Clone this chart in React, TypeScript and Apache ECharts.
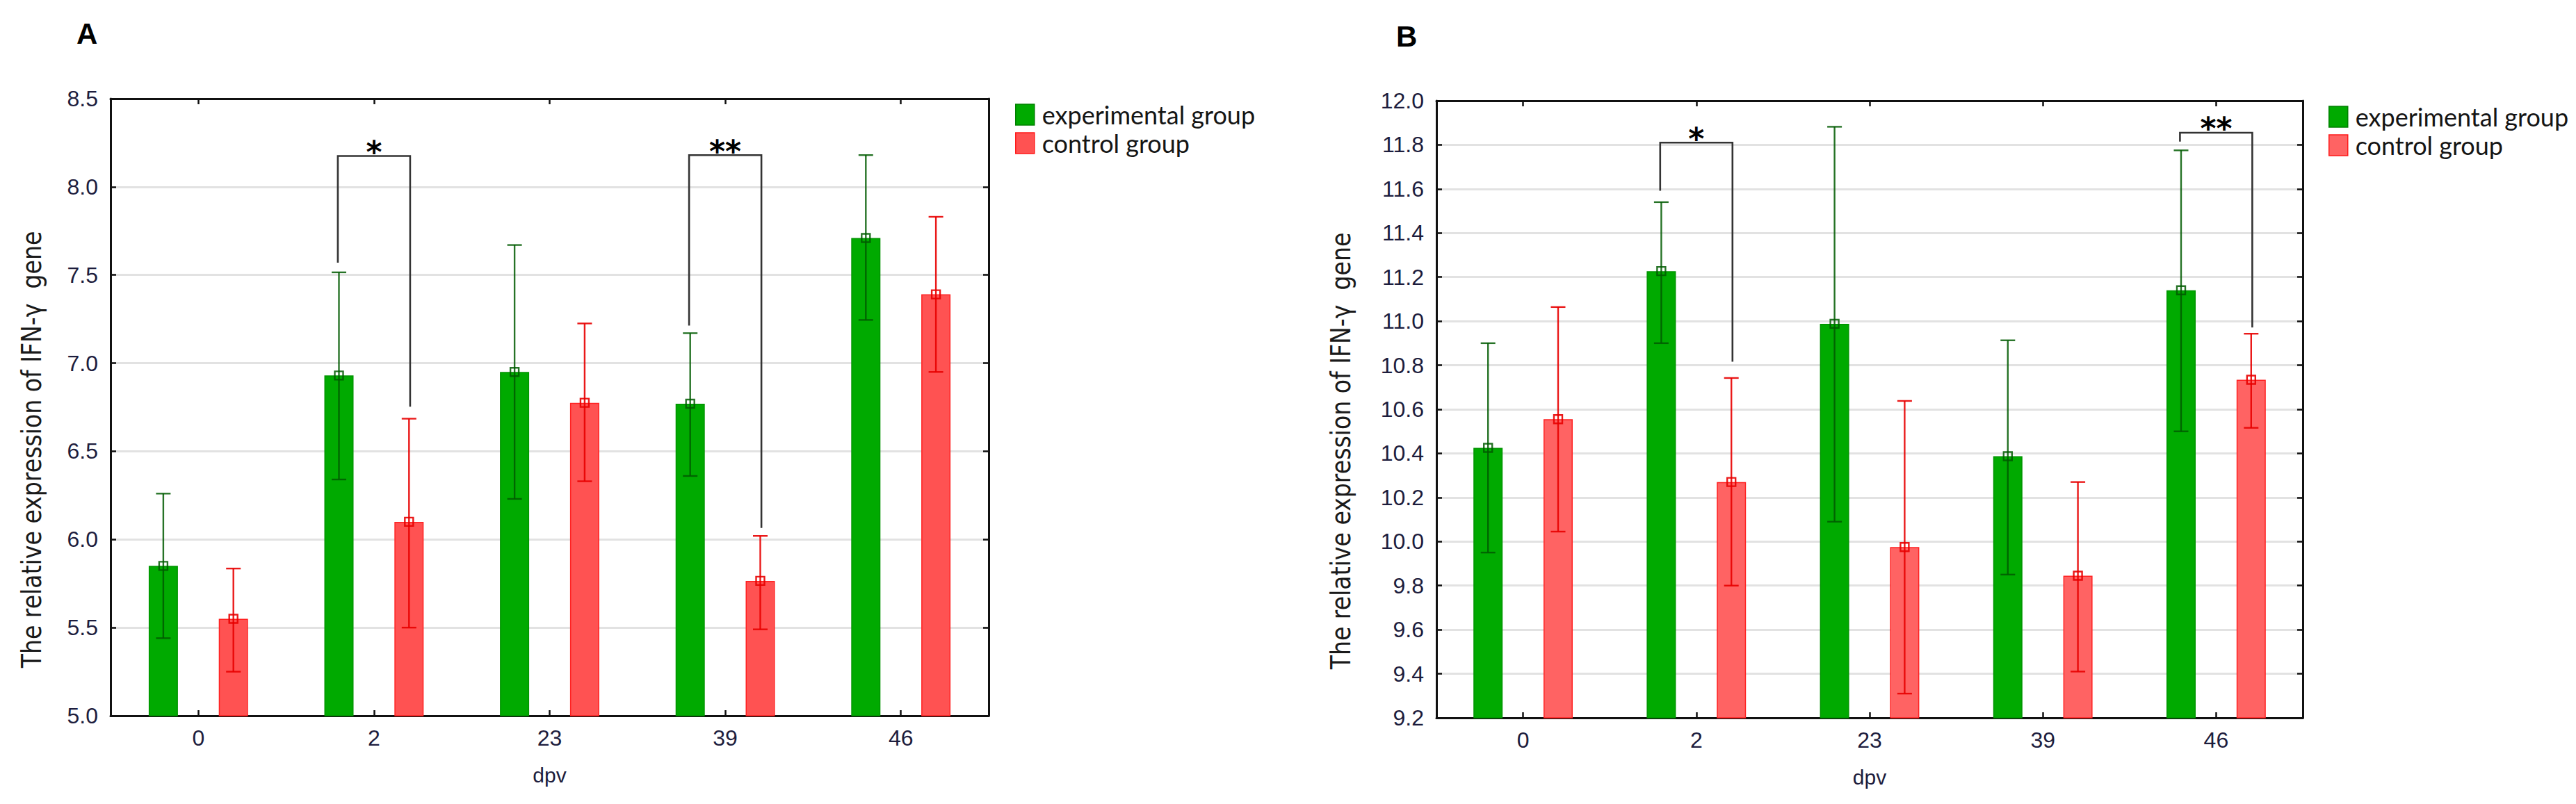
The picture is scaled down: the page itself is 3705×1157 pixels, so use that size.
import React, { useEffect, useRef } from 'react';
import * as echarts from 'echarts';

// ---------- data ----------
const CATEGORIES = ['0', '2', '23', '39', '46'];
const SERIES_NAMES = ['experimental group', 'control group'];

// Panel A (y: 5.0 – 8.5)
const A_EXP_MEAN = [5.85, 6.93, 6.95, 6.77, 7.71];
const A_EXP_LOW = [5.44, 6.34, 6.23, 6.36, 7.245];
const A_EXP_HIGH = [6.26, 7.515, 7.67, 7.17, 8.18];
const A_CTL_MEAN = [5.55, 6.1, 6.775, 5.765, 7.39];
const A_CTL_LOW = [5.25, 5.5, 6.33, 5.49, 6.95];
const A_CTL_HIGH = [5.835, 6.685, 7.225, 6.02, 7.83];
const A_Y_TICKS = [5.0, 5.5, 6.0, 6.5, 7.0, 7.5, 8.0, 8.5];
// brackets: [category index, left leg end, bracket top, right leg end]
const A_BRACKETS = [
  [1, 7.57, 8.175, 6.753],
  [3, 7.213, 8.18, 6.065],
];
const A_BRACKET_LABELS = ['*', '**'];

// Panel B (y: 9.2 – 12.0)
const B_EXP_MEAN = [10.425, 11.227, 10.988, 10.387, 11.14];
const B_EXP_LOW = [9.95, 10.9, 10.09, 9.85, 10.5];
const B_EXP_HIGH = [10.9, 11.54, 11.882, 10.913, 11.775];
const B_CTL_MEAN = [10.555, 10.27, 9.975, 9.845, 10.734];
const B_CTL_LOW = [10.045, 9.8, 9.31, 9.41, 10.516];
const B_CTL_HIGH = [11.064, 10.742, 10.638, 10.27, 10.943];
const B_Y_TICKS = [9.2, 9.4, 9.6, 9.8, 10.0, 10.2, 10.4, 10.6, 10.8, 11.0, 11.2, 11.4, 11.6, 11.8, 12.0];
const B_BRACKETS = [
  [1, 11.592, 11.81, 10.816],
  [4, 11.815, 11.855, 10.971],
];
const B_BRACKET_LABELS = ['*', '**'];

const PANEL_LABELS = ['A', 'B'];
const Y_TITLE = 'The relative expression of IFN-γ  gene';
const X_TITLE = 'dpv';

// ---------- style ----------
const GREEN = '#00aa00';
const GREEN_BORDER = '#009400';
const GREEN_ERR = 'rgba(0,90,0,0.85)';
const RED_A = '#ff5252';
const RED_B = '#ff6363';
const RED_BORDER = '#ff2222';
const RED_ERR = 'rgba(232,0,0,0.9)';
const BAR_W = 42;
const BAR_GAP = 1.4;
const BAR_OFFSET = (BAR_W + BAR_W * BAR_GAP) / 2;
const CAP_W = 21;
const MARK = 12;
const BRACKET_HALF = 52;
const TICK_COLOR = '#1d1d3d';
const AXIS_COLOR = '#111';
const TICK_FONT = '"Liberation Sans", Arial, sans-serif';

function errorRender(side: number, color: string) {
  return (params: any, api: any) => {
    const c = api.value(0);
    const pm = api.coord([c, api.value(1)]);
    const yLo = api.coord([c, api.value(2)])[1];
    const yHi = api.coord([c, api.value(3)])[1];
    const x = pm[0] + side * BAR_OFFSET;
    const h = CAP_W / 2;
    const style = { stroke: color, lineWidth: 2.4, fill: null };
    return {
      type: 'group',
      children: [
        { type: 'line', shape: { x1: x, y1: yHi, x2: x, y2: yLo }, style },
        { type: 'line', shape: { x1: x - h, y1: yHi, x2: x + h, y2: yHi }, style },
        { type: 'line', shape: { x1: x - h, y1: yLo, x2: x + h, y2: yLo }, style },
        { type: 'rect', shape: { x: x - MARK / 2, y: pm[1] - MARK / 2, width: MARK, height: MARK }, style },
      ],
    };
  };
}

function bracketRender(labels: string[]) {
  return (params: any, api: any) => {
    const c = api.value(0);
    const center = api.coord([c, api.value(2)]);
    const yL = api.coord([c, api.value(1)])[1];
    const yR = api.coord([c, api.value(3)])[1];
    const yT = center[1];
    const xl = center[0] - BRACKET_HALF;
    const xr = center[0] + BRACKET_HALF;
    return {
      type: 'group',
      children: [
        {
          type: 'polyline',
          shape: { points: [[xl, yL], [xl, yT], [xr, yT], [xr, yR]] },
          style: { stroke: '#333', lineWidth: 2.6, fill: null },
        },
        {
          type: 'text',
          x: center[0],
          y: yT - 15 + 9,
          style: {
            text: labels[params.dataIndex],
            fontSize: 44,
            fontWeight: 'bold',
            fontFamily: '"DejaVu Sans", sans-serif',
            fill: '#000',
            align: 'center',
            verticalAlign: 'middle',
          },
        },
      ],
    };
  };
}

function errData(mean: number[], low: number[], high: number[]) {
  return mean.map((m, i) => [i, m, low[i], high[i]]);
}

function panelAxes(gridIndex: number, ticks: number[]) {
  const min = ticks[0];
  const max = ticks[ticks.length - 1];
  const interval = Math.round((ticks[1] - ticks[0]) * 10) / 10;
  const lineStyle = { color: AXIS_COLOR, width: 3 };
  const tick = { show: true, inside: true, length: 8, lineStyle: { color: AXIS_COLOR, width: 2.5 } };
  const xAxes = [
    {
      type: 'category',
      gridIndex,
      data: CATEGORIES,
      position: 'bottom',
      axisLine: { show: true, lineStyle },
      axisTick: { ...tick, alignWithLabel: true },
      axisLabel: { show: true, fontSize: 32, fontFamily: TICK_FONT, color: TICK_COLOR, margin: 16 },
      name: X_TITLE,
      nameLocation: 'middle',
      nameGap: 70,
      nameTextStyle: { fontSize: 30, fontFamily: TICK_FONT, color: TICK_COLOR },
      splitLine: { show: false },
    },
    {
      type: 'category',
      gridIndex,
      data: CATEGORIES,
      position: 'top',
      axisLine: { show: true, lineStyle },
      axisTick: { ...tick, alignWithLabel: true },
      axisLabel: { show: false },
      splitLine: { show: false },
    },
  ];
  const yAxes = [
    {
      type: 'value',
      gridIndex,
      min,
      max,
      interval,
      position: 'left',
      axisLine: { show: true, lineStyle },
      axisTick: tick,
      axisLabel: {
        fontSize: 32,
        fontFamily: TICK_FONT,
        color: TICK_COLOR,
        margin: 18,
        formatter: (v: number) => v.toFixed(1),
      },
      splitLine: { show: true, lineStyle: { color: '#e2e2e2', width: 3 } },
    },
    {
      type: 'value',
      gridIndex,
      min,
      max,
      interval,
      position: 'right',
      axisLine: { show: true, lineStyle },
      axisTick: tick,
      axisLabel: { show: false },
      splitLine: { show: false },
    },
  ];
  return { xAxes, yAxes };
}

function legendFor(left: number, top: number, red: string) {
  return {
    orient: 'vertical',
    left,
    top,
    itemWidth: 27,
    itemHeight: 30,
    itemGap: 5,
    icon: 'rect',
    selectedMode: false,
    textStyle: { fontSize: 36, fontFamily: 'Lato, sans-serif', color: '#151515', lineHeight: 30, padding: [0, 0, 0, 6] },
    data: [
      { name: SERIES_NAMES[0], itemStyle: { color: GREEN, borderColor: '#008000', borderWidth: 1.5 } },
      { name: SERIES_NAMES[1], itemStyle: { color: red, borderColor: '#ff1a1a', borderWidth: 1.5 } },
    ],
  };
}

function buildOption() {
  const a = panelAxes(0, A_Y_TICKS);
  const b = panelAxes(1, B_Y_TICKS);
  const barCommon = { type: 'bar', barWidth: BAR_W, barGap: `${BAR_GAP * 100}%`, z: 2 };
  const titleText = (x: number, y: number) => ({
    type: 'text',
    x,
    y,
    rotation: Math.PI / 2,
    scaleX: 0.85,
    style: {
      text: Y_TITLE,
      fontSize: 39,
      fontFamily: '"DejaVu Sans", Verdana, sans-serif',
      fill: '#1a1a1a',
      align: 'center',
      verticalAlign: 'middle',
    },
  });
  const panelLetter = (text: string, x: number, y: number) => ({
    type: 'text',
    x,
    y,
    style: {
      text,
      fontSize: 42,
      fontWeight: 'bold',
      fontFamily: TICK_FONT,
      fill: '#000',
      align: 'left',
      verticalAlign: 'middle',
    },
  });
  return {
    animation: false,
    backgroundColor: '#fff',
    grid: [
      { left: 159, top: 142, width: 1263, height: 888 },
      { left: 2066, top: 145, width: 1246, height: 888 },
    ],
    legend: [legendFor(1455, 142, RED_A), legendFor(3344, 145, RED_B)],
    xAxis: [...a.xAxes, ...b.xAxes],
    yAxis: [...a.yAxes, ...b.yAxes],
    graphic: [
      titleText(46, 647),
      titleText(1929, 649),
      panelLetter(PANEL_LABELS[0], 110, 48),
      panelLetter(PANEL_LABELS[1], 2008, 52),
    ],
    series: [
      {
        ...barCommon,
        name: SERIES_NAMES[0],
        xAxisIndex: 0,
        yAxisIndex: 0,
        data: A_EXP_MEAN,
        itemStyle: { color: GREEN, borderColor: GREEN_BORDER, borderWidth: 1.5 },
      },
      {
        ...barCommon,
        name: SERIES_NAMES[1],
        xAxisIndex: 0,
        yAxisIndex: 0,
        data: A_CTL_MEAN,
        itemStyle: { color: RED_A, borderColor: RED_BORDER, borderWidth: 1.5 },
      },
      {
        ...barCommon,
        name: SERIES_NAMES[0],
        xAxisIndex: 2,
        yAxisIndex: 2,
        data: B_EXP_MEAN,
        itemStyle: { color: GREEN, borderColor: GREEN_BORDER, borderWidth: 1.5 },
      },
      {
        ...barCommon,
        name: SERIES_NAMES[1],
        xAxisIndex: 2,
        yAxisIndex: 2,
        data: B_CTL_MEAN,
        itemStyle: { color: RED_B, borderColor: RED_BORDER, borderWidth: 1.5 },
      },
      {
        type: 'custom',
        xAxisIndex: 0,
        yAxisIndex: 0,
        z: 5,
        silent: true,
        encode: { x: 0, y: [1, 2, 3] },
        renderItem: errorRender(-1, GREEN_ERR),
        data: errData(A_EXP_MEAN, A_EXP_LOW, A_EXP_HIGH),
      },
      {
        type: 'custom',
        xAxisIndex: 0,
        yAxisIndex: 0,
        z: 5,
        silent: true,
        encode: { x: 0, y: [1, 2, 3] },
        renderItem: errorRender(1, RED_ERR),
        data: errData(A_CTL_MEAN, A_CTL_LOW, A_CTL_HIGH),
      },
      {
        type: 'custom',
        xAxisIndex: 2,
        yAxisIndex: 2,
        z: 5,
        silent: true,
        encode: { x: 0, y: [1, 2, 3] },
        renderItem: errorRender(-1, GREEN_ERR),
        data: errData(B_EXP_MEAN, B_EXP_LOW, B_EXP_HIGH),
      },
      {
        type: 'custom',
        xAxisIndex: 2,
        yAxisIndex: 2,
        z: 5,
        silent: true,
        encode: { x: 0, y: [1, 2, 3] },
        renderItem: errorRender(1, RED_ERR),
        data: errData(B_CTL_MEAN, B_CTL_LOW, B_CTL_HIGH),
      },
      {
        type: 'custom',
        xAxisIndex: 0,
        yAxisIndex: 0,
        z: 6,
        silent: true,
        encode: { x: 0, y: [1, 2, 3] },
        renderItem: bracketRender(A_BRACKET_LABELS),
        data: A_BRACKETS,
      },
      {
        type: 'custom',
        xAxisIndex: 2,
        yAxisIndex: 2,
        z: 6,
        silent: true,
        encode: { x: 0, y: [1, 2, 3] },
        renderItem: bracketRender(B_BRACKET_LABELS),
        data: B_BRACKETS,
      },
    ],
  };
}

export default function App() {
  const ref = useRef<HTMLDivElement>(null);
  useEffect(() => {
    document.body.style.margin = '0';
    if (!ref.current) return;
    const chart = echarts.init(ref.current, null, { renderer: 'svg' });
    chart.setOption(buildOption() as any);
    return () => chart.dispose();
  }, []);
  return <div ref={ref} style={{ width: 3705, height: 1157, background: '#fff' }} />;
}
